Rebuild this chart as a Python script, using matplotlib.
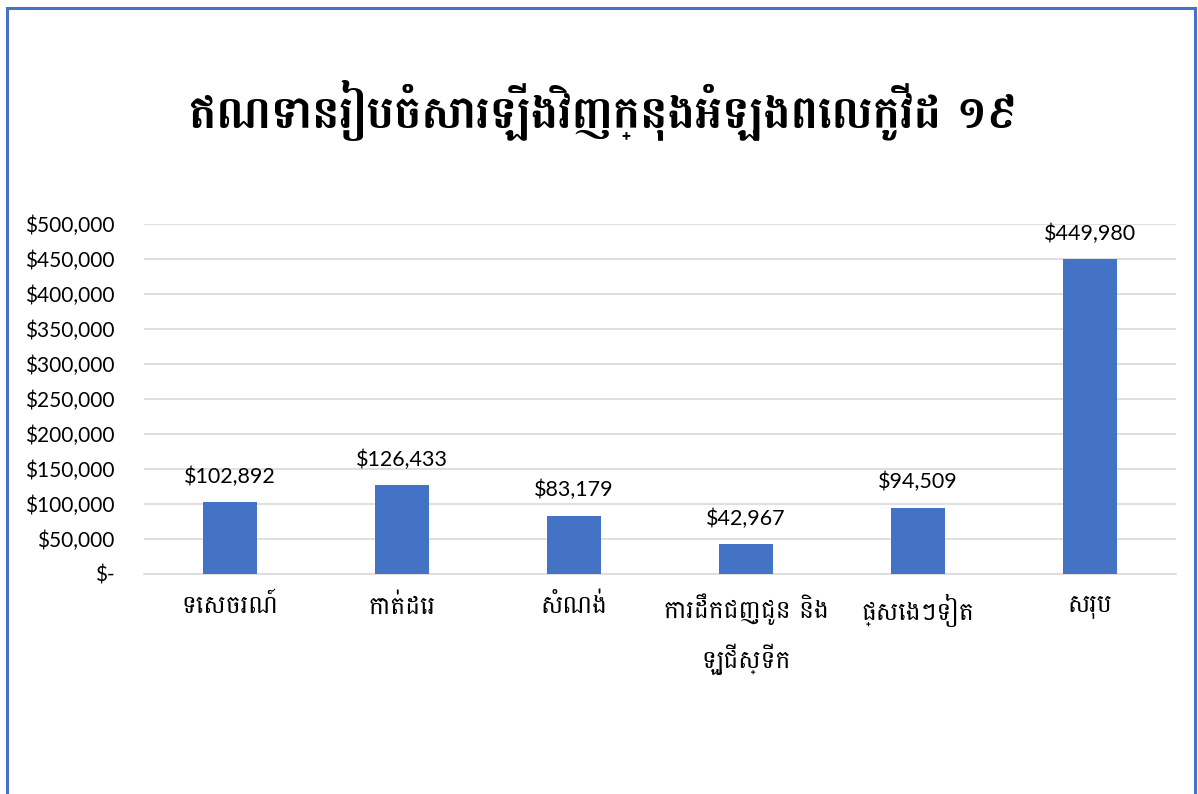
import matplotlib
matplotlib.use("Agg")
import matplotlib.pyplot as plt
from matplotlib.patches import Rectangle
from matplotlib.ticker import FuncFormatter

title = "ឥណទានរៀបចំសារឡើងវិញក្នុងអំឡុងពេលកូវីដ ១៩"
categories = ["ទេសចរណ៍", "កាត់ដេរ", "សំណង់", "ការដឹកជញ្ជូន និង\nឡូជីស្ទីក", "ផ្សេងៗទៀត", "សរុប"]
values = [102892, 126433, 83179, 42967, 94509, 449980]
yticks = [0, 50000, 100000, 150000, 200000, 250000, 300000, 350000, 400000, 450000, 500000]

plt.rcParams['font.family'] = ['Lato', 'Battambang', 'DejaVu Sans']
khmer = ['Battambang', 'Noto Sans Khmer', 'DejaVu Sans']

fig = plt.figure(figsize=(11.98, 7.94), dpi=100)
ax = fig.add_axes([144/1198, 1-574/794, 1032/1198, 350/794])

x = list(range(len(categories)))
ax.bar(x, values, width=0.31, color="#4472C4", zorder=3)
for xi, v in zip(x, values):
    ax.annotate(f"${v:,.0f}", (xi, v), xytext=(0, 11), textcoords="offset points",
                ha="center", va="bottom", fontsize=15.5, color="#000000")

ax.set_xlim(-0.5, len(categories) - 0.5)
ax.set_ylim(0, 500000)
ax.set_yticks(yticks)
ax.yaxis.set_major_formatter(FuncFormatter(lambda v, p: "$-" if v == 0 else f"${v:,.0f}"))
ax.set_xticks(x)
ax.set_xticklabels(categories, fontsize=18, linespacing=1.75, family=khmer)
ax.tick_params(axis="y", length=0, pad=21, labelsize=15, labelcolor="#000000")
ax.tick_params(axis="x", length=0, pad=14, colors="#000000")
ax.grid(axis="y", color="#D9D9D9", linewidth=1.2, zorder=0)
for s in ["top", "right", "left"]:
    ax.spines[s].set_visible(False)
ax.spines["bottom"].set_color("#D9D9D9")
ax.spines["bottom"].set_linewidth(1.2)

fig.text(603/1198, 1-110/794, title, ha="center", va="center", fontsize=33,
         fontweight="bold", color="#000000", family=khmer)

fig.patches.append(Rectangle((7/1198, -0.05), 1188/1198, 1.05 - 8/794, transform=fig.transFigure,
                             fill=False, edgecolor="#4472C4", linewidth=2.2))

fig.savefig("out.png", dpi=100)
